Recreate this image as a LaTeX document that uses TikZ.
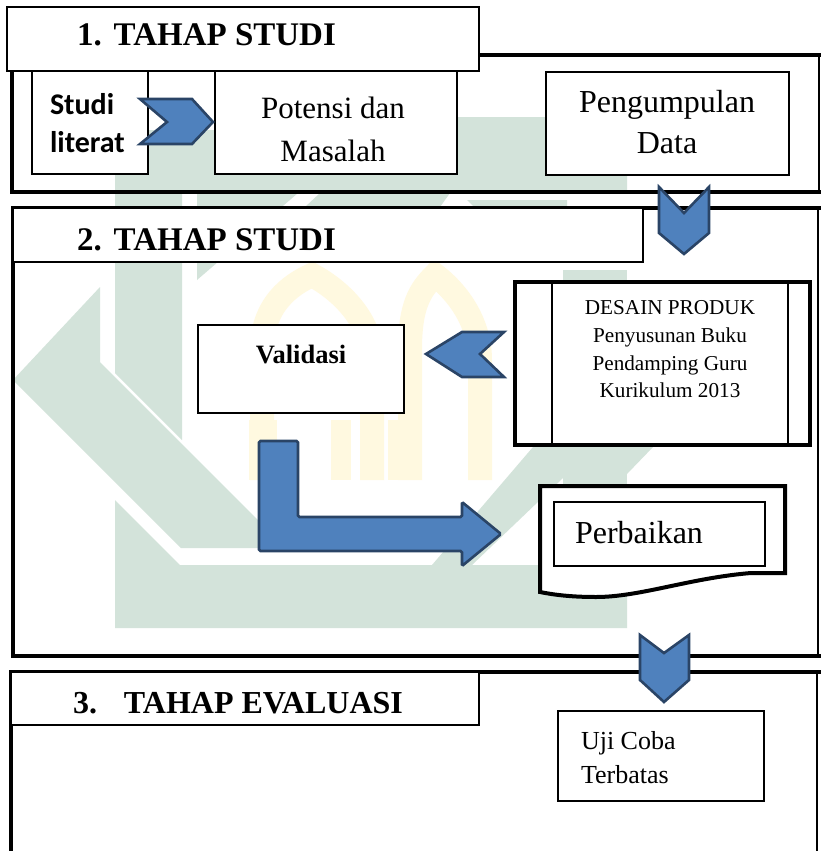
\documentclass[tikz,border=0pt]{standalone}
\usepackage{fontspec}
\setmainfont{Liberation Serif}
\newfontfamily\calibri{Carlito}
\definecolor{wmgreen}{HTML}{D3E3DA}
\definecolor{wmyellow}{HTML}{FFF9E0}
\definecolor{chevfill}{HTML}{4F81BD}
\definecolor{chevline}{HTML}{2A4466}
\begin{document}
\begin{tikzpicture}[x=1pt,y=-1pt,
  thinbox/.style={draw=black,line width=1.3pt,fill=white,inner sep=0pt,outer sep=0pt,anchor=north west},
  thickline/.style={draw=black,line width=4pt},
  chev/.style={fill=chevfill,draw=chevline,line width=2.6pt,line join=miter},
  lbl/.style={inner sep=0pt,outer sep=0pt,anchor=base},
  wm/.style={fill=wmgreen,draw=none},
  ttl/.style={lbl,anchor=base west,font=\fontsize{33}{35}\bfseries\selectfont},
  body/.style={lbl,font=\fontsize{31}{33}\selectfont},
  small/.style={lbl,font=\fontsize{21.2}{23}\selectfont},
]
\useasboundingbox (0,0) rectangle (821,851);
\fill[white] (0,0) rectangle (821,851);
% ---------- watermark ----------
\fill[wm] (259,117) -- (627,117) -- (627,193) -- (197,193) -- (197,183) -- cycle;
\fill[wm] (197,193) -- (298,193) -- (197,280) -- cycle;
\fill[wm] (320,193) -- (450,193) -- (440,207) -- (305,207) -- cycle;
\fill[wm] (467,200) -- (567,200) -- (567,213) -- (480,213) -- cycle;
\fill[wm] (133,130) rectangle (215,193);
\fill[wm] (115,130) -- (182,130) -- (182,440) -- (115,373) -- cycle;
\fill[wm] (100,287) -- (13,380) -- (181,548) -- (300,548) -- (300,522) -- (260,522) -- (100,362) -- cycle;
\fill[wm] (115,500) -- (180,565) -- (627,565) -- (627,628) -- (115,628) -- cycle;
\fill[wm] (563,270) rectangle (627,565);
\fill[wm] (533,447) -- (563,447) -- (563,478) -- (472,565) -- (432,565) -- cycle;
\fill[wm] (627,447) -- (653,447) -- (627,474) -- cycle;
\draw[wmyellow,line width=24pt] (262,480) -- (262,350) .. controls (262,305) and (290,285) .. (312,275) .. controls (340,290) and (372,320) .. (372,360) -- (372,480);
\draw[wmyellow,line width=24pt] (410,480) -- (410,350) .. controls (410,305) and (420,290) .. (435,275) .. controls (455,290) and (480,320) .. (480,360) -- (480,480);
\foreach \a/\b in {249/277,331/351,362/381,388/407,470/492}{\fill[wmyellow] (\a,420) rectangle (\b,480);}
% ---------- section frames ----------
\draw[thickline] (12,55) -- (12,192) -- (826,192);
\draw[thickline] (10,55) -- (826,55);
\draw[line width=1.5pt] (819,55) -- (819,192);
\draw[thickline] (13,206) -- (13,656) -- (826,656);
\draw[thickline] (11,208) -- (826,208);
\draw[line width=1.5pt] (818,208) -- (818,656);
\draw[thickline] (11,860) -- (11,672) -- (826,672);
\draw[line width=1.5pt] (817,672) -- (817,860);
% ---------- title boxes ----------
\node[thinbox,minimum width=472pt,minimum height=64pt] (tb1) at (7,7) {};
\node[ttl] (tt1) at (77,46) {1.\hspace{12pt}TAHAP STUDI};
\node[thinbox,minimum width=630pt,minimum height=54pt] (tb2) at (13,208) {};
\node[ttl] (tt2) at (77,250) {2.\hspace{12pt}TAHAP STUDI};
\node[thinbox,minimum width=468pt,minimum height=53pt] (tb3) at (11,672) {};
\node[ttl,font=\fontsize{32}{34}\bfseries\selectfont] (tt3) at (73,713) {3.\hspace{27pt}TAHAP EVALUASI};
% ---------- section 1 ----------
\node[thinbox,minimum width=116pt,minimum height=103pt] (studi) at (32,71) {};
\node[lbl,anchor=base west,font=\fontsize{30}{32}\calibri\bfseries] (studi1) at (50,114) {Studi};
\node[lbl,anchor=base west,font=\fontsize{30}{32}\calibri\bfseries] (studi2) at (50,152) {literat};
\node[thinbox,minimum width=242pt,minimum height=103pt] (potensi) at (215,71) {};
\node[body] (pot1) at (333,118) {Potensi dan};
\node[body] (pot2) at (333,161) {Masalah};
\node[thinbox,minimum width=243pt,minimum height=103pt] (kumpul) at (546,72) {};
\node[body,font=\fontsize{32}{34}\selectfont] (kum1) at (667,112) {Pengumpulan};
\node[body,font=\fontsize{32}{34}\selectfont] (kum2) at (667,153) {Data};
\path[chev] (140,99) -- (192,99) -- (213,122) -- (192,144) -- (140,144) -- (167,122) -- cycle;
\path[chev] (659,187) -- (684,213) -- (709,187) -- (709,233) -- (684,254) -- (659,233) -- cycle;
% ---------- section 2 ----------
\node[thinbox,minimum width=206pt,minimum height=88pt] (valid) at (198,325) {};
\node[lbl,font=\fontsize{26.5}{28}\bfseries\selectfont] (validt) at (301,363) {Validasi};
\path[chev] (426,354) -- (462,332) -- (504,332) -- (480,354) -- (504,377) -- (462,377) -- cycle;
\node[draw=black,line width=4pt,fill=white,inner sep=0pt,outer sep=0pt,anchor=north west,minimum width=295pt,minimum height=163pt] (desain) at (515,282) {};
\draw[line width=1.3pt] (552,282) -- (552,445) (788,282) -- (788,445);
\node[small] (des1) at (670,314) {DESAIN PRODUK};
\node[small] (des2) at (670,342) {Penyusunan Buku};
\node[small] (des3) at (670,370) {Pendamping Guru};
\node[small] (des4) at (670,397) {Kurikulum 2013};
\path[chev,rounded corners=1.5pt] (259,441) -- (298,441) -- (298,517) -- (462,517) -- (462,502) -- (501,534) -- (462,566) -- (462,551) -- (259,551) -- cycle;
\path[draw=black,line width=4pt,fill=white,line join=miter] (540,486) -- (785,486) -- (785,573) -- (751,573) .. controls (690,578) and (640,597) .. (596,597) .. controls (572,597) and (555,595) .. (540,592) -- cycle;
\node[thinbox,minimum width=211pt,minimum height=64pt] (perb) at (554,502) {};
\node[lbl,anchor=base west,font=\fontsize{32}{34}\selectfont] (perbt) at (575,543) {Perbaikan};
\path[chev] (640,635) -- (664,653) -- (689,635) -- (689,680) -- (664,702) -- (640,680) -- cycle;
% ---------- section 3 ----------
\node[thinbox,minimum width=206pt,minimum height=90pt] (uji) at (558,711) {};
\node[lbl,anchor=base west,font=\fontsize{26}{28}\selectfont] (uji1) at (581,749) {Uji Coba};
\node[lbl,anchor=base west,font=\fontsize{26}{28}\selectfont] (uji2) at (581,783) {Terbatas};
\end{tikzpicture}
\end{document}
